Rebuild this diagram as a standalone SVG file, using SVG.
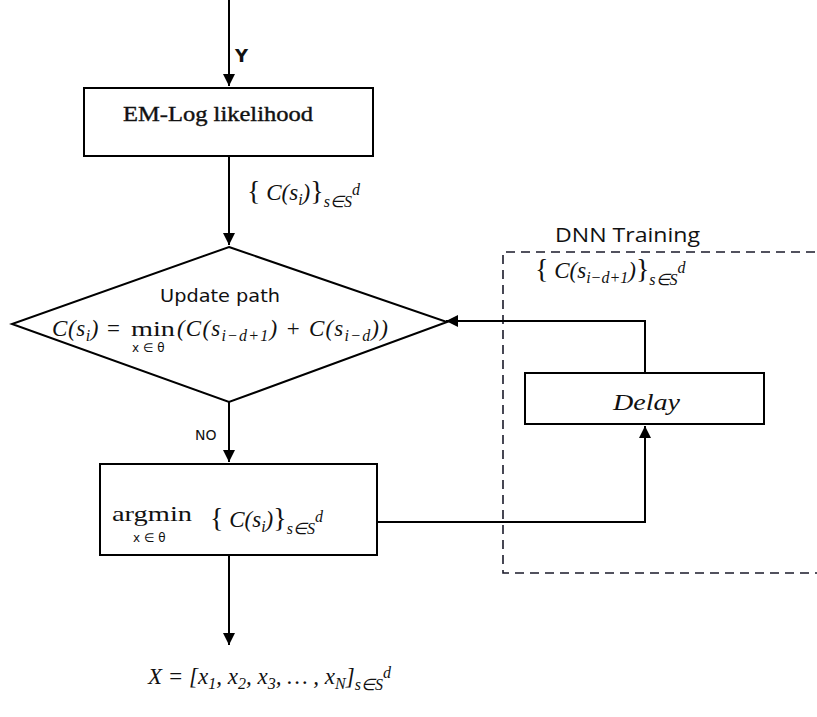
<svg xmlns="http://www.w3.org/2000/svg" width="817" height="717" viewBox="0 0 817 717">
<style>
.box{fill:#fff;stroke:#000;stroke-width:2}
.ln{fill:none;stroke:#000;stroke-width:2}
.dash{fill:none;stroke:#1a1a2a;stroke-width:1.6;stroke-dasharray:9 6}
.m{font-family:"Liberation Serif",serif;font-style:italic;font-size:23px;fill:#111}
.sub{font-size:16px}
.rs{font-family:"Liberation Serif",serif;font-size:22px;fill:#111}
.sn{font-family:"DejaVu Sans","Liberation Sans",sans-serif;fill:#111}
.cal{font-family:"Open Sans","Liberation Sans",sans-serif;fill:#111}
</style>
<defs>
<marker id="ah" markerWidth="14" markerHeight="14" refX="12" refY="6" orient="auto" markerUnits="userSpaceOnUse">
<path d="M0,0 L12,6 L0,12 Z" fill="#000"/>
</marker>
</defs>

<g id="dnn-training">
<path class="dash" d="M830,252 H503 V573 H830"/>
<text class="cal" x="555" y="242" font-size="20" textLength="145" lengthAdjust="spacingAndGlyphs">DNN Training</text>
</g>

<g id="connectors">
<path class="ln" d="M229,0 V86" marker-end="url(#ah)"/>
<path class="ln" d="M229,156 V245" marker-end="url(#ah)"/>
<path class="ln" d="M229,402 V462" marker-end="url(#ah)"/>
<path class="ln" d="M229,555 V645" marker-end="url(#ah)"/>
<path class="ln" d="M377,522 H645 V426" marker-end="url(#ah)"/>
<path class="ln" d="M645,373 V321 H446" marker-end="url(#ah)"/>
</g>

<g id="label-y">
<text class="sn" x="235" y="62" font-size="18" font-weight="bold">Y</text>
</g>

<g id="em-log">
<rect class="box" x="84" y="88" width="289" height="68"/>
<text class="rs" x="123" y="121" font-size="22" textLength="190" lengthAdjust="spacingAndGlyphs" stroke="#111" stroke-width="0.4">EM-Log likelihood</text>
</g>

<g id="label-c">
<text class="m" x="247" y="200"><tspan font-style="normal" font-size="28">{</tspan> C(s<tspan class="sub" dy="5">i</tspan><tspan dy="-5">)</tspan><tspan font-style="normal" font-size="28">}</tspan><tspan class="sub" dy="7">s∈S</tspan><tspan class="sub" dy="-12">d</tspan></text>
</g>

<g id="update-path">
<polygon class="box" points="229,247 447,322 229,402 12,324"/>
<text class="sn" x="160" y="302" font-size="17" textLength="120" lengthAdjust="spacingAndGlyphs">Update path</text>
<text class="m" x="52" y="336" font-size="24" letter-spacing="0.6">C(s<tspan class="sub" dy="5">i</tspan><tspan dy="-5">) =</tspan></text>
<text class="rs" x="131" y="336" font-size="23" textLength="44" lengthAdjust="spacingAndGlyphs">min</text>
<text class="sn" x="132" y="352" font-size="12">x ∈ θ</text>
<text class="m" x="177" y="336" font-size="24" letter-spacing="1.2">(C(s<tspan class="sub" dy="5">i−d+1</tspan><tspan dy="-5">) + C(s</tspan><tspan class="sub" dy="5">i−d</tspan><tspan dy="-5">))</tspan></text>
</g>

<g id="label-no">
<text class="sn" x="195" y="440" font-size="14">NO</text>
</g>

<g id="argmin">
<rect class="box" x="100" y="464" width="277" height="91"/>
<text class="rs" x="112" y="521" font-size="24" textLength="80" lengthAdjust="spacingAndGlyphs">argmin</text>
<text class="sn" x="133" y="542" font-size="12">x ∈ θ</text>
<text class="m" x="210" y="527"><tspan font-style="normal" font-size="28">{</tspan> C(s<tspan class="sub" dy="5">i</tspan><tspan dy="-5">)</tspan><tspan font-style="normal" font-size="28">}</tspan><tspan class="sub" dy="7">s∈S</tspan><tspan class="sub" dy="-12">d</tspan></text>
</g>

<g id="label-delay-in">
<text class="m" x="535" y="278"><tspan font-style="normal" font-size="28">{</tspan> C(s<tspan class="sub" dy="5">i−d+1</tspan><tspan dy="-5">)</tspan><tspan font-style="normal" font-size="28">}</tspan><tspan class="sub" dy="7">s∈S</tspan><tspan class="sub" dy="-12">d</tspan></text>
</g>

<g id="delay">
<rect class="box" x="525" y="373" width="239" height="51"/>
<text class="m" x="613" y="410" textLength="67" lengthAdjust="spacingAndGlyphs">Delay</text>
</g>

<g id="output">
<text class="m" x="148" y="684">X = [x<tspan class="sub" dy="5">1</tspan><tspan dy="-5">, x</tspan><tspan class="sub" dy="5">2</tspan><tspan dy="-5">, x</tspan><tspan class="sub" dy="5">3</tspan><tspan dy="-5">, … , x</tspan><tspan class="sub" dy="5">N</tspan><tspan dy="-5">]</tspan><tspan class="sub" dy="6">s∈S</tspan><tspan class="sub" dy="-12">d</tspan></text>
</g>
</svg>
